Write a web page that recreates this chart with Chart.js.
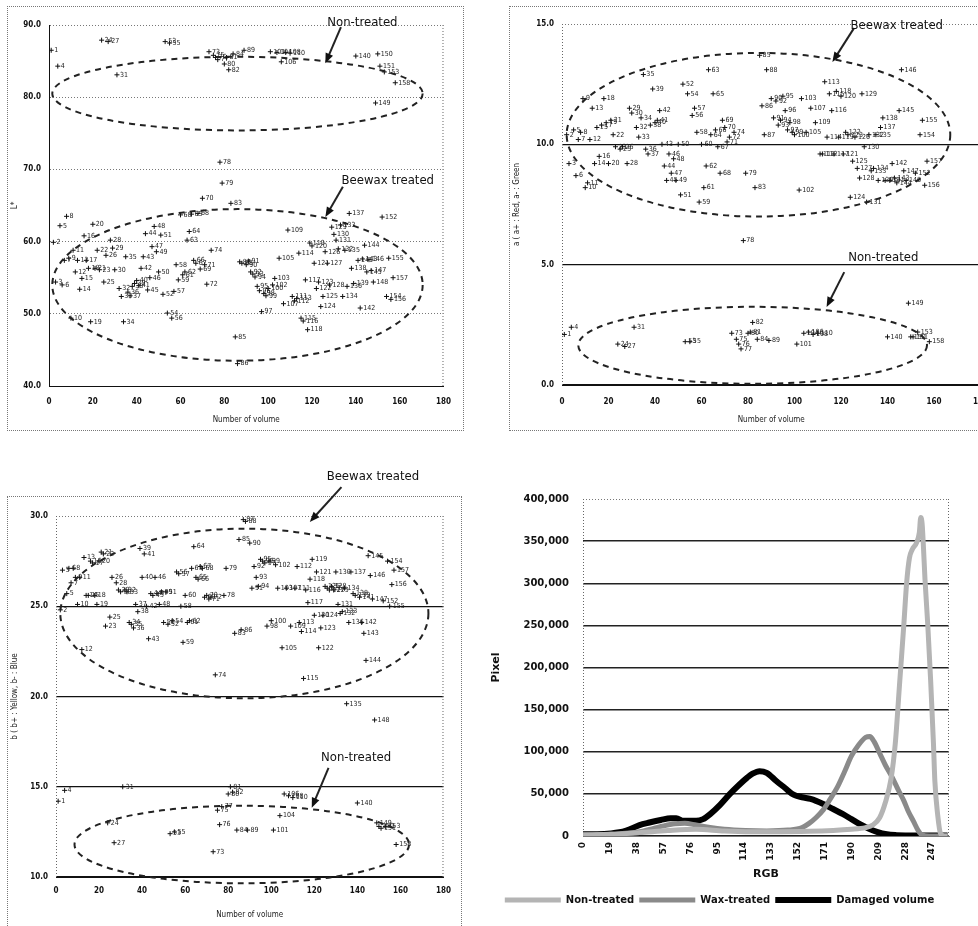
<!DOCTYPE html>
<html>
<head>
<meta charset="utf-8">
<script src="https://cdn.jsdelivr.net/npm/chart.js@4.4.0/dist/chart.umd.min.js"></script>
<style>
html, body { margin: 0; padding: 0; background: #fff; overflow: hidden; width: 978px; height: 926px; }
.frame { position: absolute; border: 1px dotted #777; box-sizing: border-box; }
canvas { position: absolute; }
</style>
</head>
<body>
<div class="frame" style="left:7px;top:6px;width:457px;height:425px"></div>
<div class="frame" style="left:509px;top:6px;width:520px;height:425px"></div>
<div class="frame" style="left:7px;top:496px;width:455px;height:432px"></div>
<canvas id="chartL" width="454" height="423" style="left:8px;top:7px"></canvas>
<canvas id="chartA" width="490" height="423" style="left:510px;top:7px"></canvas>
<canvas id="chartB" width="452" height="460" style="left:8px;top:465px"></canvas>
<canvas id="chartRgb" width="478" height="445" style="left:490px;top:470px"></canvas>
<script>
/* colour values per volume (index = volume number) */
let lValues = [86.5, 59.9, 54.4, 84.3, 62.2, 54.0, 57.4, 63.5, 57.7, 49.4,
  58.8, 55.8, 57.4, 53.4, 54.9, 60.8, 57.4, 56.3, 48.9, 62.4,
  56.3, 58.8, 56.1, 87.9, 54.4, 58.1, 87.7, 60.2, 59.1, 56.1,
  83.1, 53.5, 52.4, 48.9, 57.9, 53.0, 52.5, 53.8, 54.2, 54.6,
  53.9, 56.3, 57.9, 61.1, 53.3, 55.0, 59.3, 62.1, 58.6, 55.8,
  60.9, 52.7, 87.7, 50.1, 87.5, 49.4, 53.1, 56.8, 54.7, 63.7,
  55.4, 55.8, 60.2, 61.4, 63.8, 57.4, 57.0, 63.9, 56.2, 66.0,
  56.8, 54.1, 86.3, 58.8, 85.8, 85.5, 85.2, 71.0, 68.1, 84.6,
  85.5, 83.8, 65.3, 86.0, 46.8, 43.1, 57.2, 57.0, 86.5, 56.8,
  57.3, 55.8, 55.5, 55.1, 53.8, 53.2, 50.3, 52.8, 52.5, 53.5,
  86.3, 54.0, 54.9, 86.2, 57.7, 84.9, 51.4, 86.2, 61.6, 86.1,
  52.4, 51.8, 52.1, 58.4, 49.4, 49.0, 54.7, 47.8, 59.8, 59.4,
  57.0, 53.5, 54.4, 51.0, 52.4, 58.6, 57.0, 54.0, 62.0, 61.0,
  60.2, 59.0, 62.3, 52.4, 58.8, 53.8, 63.9, 56.3, 54.2, 85.7,
  57.4, 50.8, 57.6, 59.5, 55.8, 57.5, 56.0, 54.4, 79.2, 86.0,
  84.3, 63.4, 83.5, 52.4, 57.7, 52.0, 55.0, 82.0];

let aValues = [2.1, 10.4, 9.2, 2.4, 10.6, 8.7, 10.2, 10.5, 11.9, 8.2,
  8.4, 10.2, 11.5, 9.2, 10.7, 9.5, 10.8, 11.9, 10.9, 9.2,
  11.0, 10.4, 9.9, 1.7, 9.8, 9.9, 1.6, 9.2, 11.5, 11.3,
  2.4, 10.7, 10.3, 11.1, 12.9, 9.8, 9.6, 10.8, 12.3, 10.9,
  11.0, 11.4, 10.0, 9.1, 8.5, 9.6, 8.8, 9.4, 8.5, 10.0,
  7.9, 12.5, 1.8, 12.1, 1.8, 11.2, 11.5, 10.5, 7.6, 10.0,
  8.2, 9.1, 13.1, 10.4, 12.1, 10.6, 9.9, 8.8, 11.0, 10.7,
  10.1, 10.3, 2.15, 10.5, 1.9, 1.7, 1.5, 6.0, 8.8, 2.15,
  2.2, 2.6, 8.2, 1.9, 13.7, 11.6, 10.4, 13.1, 1.85, 11.9,
  11.1, 11.8, 10.8, 11.0, 12.0, 11.4, 10.6, 10.9, 10.5, 10.4,
  1.7, 8.1, 11.9, 2.15, 10.5, 2.2, 11.5, 2.1, 10.9, 2.15,
  9.6, 9.6, 12.6, 10.3, 12.1, 11.4, 9.6, 12.2, 10.3, 12.0,
  9.6, 10.5, 10.4, 7.8, 9.3, 10.3, 9.0, 8.6, 12.1, 9.9,
  7.6, 10.4, 8.9, 9.0, 10.4, 8.5, 10.7, 11.1, 8.5, 2.0,
  8.5, 9.2, 8.6, 8.4, 11.4, 13.1, 8.9, 8.5, 3.4, 2.0,
  2.0, 8.8, 2.2, 10.4, 11.0, 8.3, 9.3, 1.8];

let bValues = [14.2, 24.8, 27.0, 14.8, 25.7, 27.1, 26.3, 27.1, 26.6, 25.1,
  26.6, 22.6, 27.7, 25.6, 25.6, 27.5, 27.4, 25.6, 25.1, 27.5,
  28.0, 27.9, 23.9, 13.0, 24.4, 26.6, 11.9, 26.3, 25.9, 25.8,
  15.0, 25.9, 25.8, 24.1, 24.0, 23.8, 25.1, 24.7, 28.2, 26.6,
  27.9, 25.0, 23.2, 25.7, 25.6, 26.6, 25.7, 25.1, 25.8, 24.1,
  25.8, 24.0, 12.4, 24.2, 12.5, 26.9, 26.8, 25.0, 23.0, 25.6,
  24.1, 24.2, 27.1, 28.3, 26.6, 26.5, 27.2, 27.1, 25.5, 25.6,
  25.4, 25.5, 11.4, 21.2, 13.7, 12.9, 13.9, 25.6, 27.1, 14.6,
  15.0, 14.7, 23.5, 12.6, 28.7, 23.7, 29.8, 29.7, 12.6, 28.5,
  26.0, 27.2, 26.6, 26.1, 27.6, 27.5, 27.4, 23.9, 27.5, 24.2,
  12.6, 27.3, 26.0, 13.4, 22.7, 14.6, 26.0, 14.5, 23.9, 14.4,
  26.0, 27.2, 24.1, 23.6, 21.0, 25.9, 25.2, 26.5, 27.6, 24.5,
  26.9, 22.7, 23.8, 24.5, 26.1, 26.0, 25.9, 26.1, 25.9, 26.9,
  25.1, 24.6, 24.7, 26.0, 19.6, 24.1, 26.9, 25.7, 25.6, 14.1,
  25.5, 24.1, 23.5, 22.0, 27.8, 26.7, 25.4, 18.7, 13.0, 12.8,
  12.7, 25.3, 12.8, 27.5, 25.0, 26.2, 27.0, 11.8];

// volume numbers 1..158
let volumes = lValues.map(function (v, i) { return i + 1; });

/* RGB histogram (pixel counts) */
let nonTreatedRgb = [0, 20, 40, 60, 80, 100, 130, 160, 190, 200, 205, 210, 214, 218, 221, 224, 227, 229, 231, 233,
  236, 238, 239, 240, 241, 242, 244, 246, 248, 249, 251, 253, 256, 258];
let nonTreatedPixels = [1500, 2000, 4000, 6500, 8000, 6000, 5000, 5500, 8000, 10000, 13000, 22000, 40000, 68000, 110000, 180000, 250000, 300000, 330000, 340000,
  348000, 360000, 378000, 370000, 340000, 305000, 250000, 185000, 110000, 65000, 25000, 3000, 0, 0];
let waxTreatedRgb = [0, 20, 40, 50, 57, 65, 72, 80, 90, 100, 115, 130, 145, 155, 160, 165, 170, 175, 180, 185,
  190, 195, 200, 203, 206, 210, 214, 219, 223, 227, 230, 234, 237, 240, 245, 258];
let waxTreatedPixels = [1000, 2000, 5000, 9000, 12000, 14500, 15000, 13000, 10000, 8000, 6500, 6000, 7000, 10000, 15000, 22000, 31000, 44000, 58000, 76000,
  95000, 108000, 117000, 118000, 112000, 98000, 84000, 69000, 55000, 42000, 30000, 17000, 7000, 1000, 0, 0];
let damagedRgb = [0, 10, 20, 30, 40, 47, 55, 62, 66, 71, 80, 85, 90, 97, 104, 110, 116, 120, 125, 130,
  137, 143, 149, 155, 161, 170, 177, 184, 190, 196, 202, 208, 215, 222, 235, 258];
let damagedPixels = [2000, 2000, 3000, 6000, 13000, 16000, 19000, 21000, 21000, 18000, 18000, 20000, 26000, 37000, 50000, 60000, 69000, 74000, 77000, 75000,
  65000, 57000, 49000, 46000, 44000, 38000, 32000, 26000, 20000, 14000, 9000, 5000, 2000, 1000, 500, 500];
let rgbTicks = [0, 19, 38, 57, 76, 95, 114, 133, 152, 171, 190, 209, 228, 247];

let narrow = '"Liberation Sans Narrow", "DejaVu Sans Condensed", sans-serif';

function drawArrow(ctx, x1, y1, x2, y2) {
    let ang = Math.atan2(y2 - y1, x2 - x1);
    let c = Math.cos(ang), s = Math.sin(ang);
    ctx.beginPath();
    ctx.moveTo(x1, y1);
    ctx.lineTo(x2 - 7 * c, y2 - 7 * s);
    ctx.stroke();
    ctx.beginPath();
    ctx.moveTo(x2, y2);
    ctx.lineTo(x2 - 10 * c + 4 * s, y2 - 10 * s - 4 * c);
    ctx.lineTo(x2 - 10 * c - 4 * s, y2 - 10 * s + 4 * c);
    ctx.closePath();
    ctx.fill();
}

/* ellipses, arrows and notes, placed in data units */
function notesPlugin(notes) {
    return {
        id: 'notes',
        beforeDatasetsDraw: function (chart) {
            let a = chart.chartArea, ctx = chart.ctx;
            ctx.save();
            ctx.strokeStyle = '#666';
            ctx.lineWidth = 1;
            ctx.setLineDash([1, 2]);
            ctx.beginPath();
            ctx.moveTo(a.right - 0.5, a.top);
            ctx.lineTo(a.right - 0.5, a.bottom);
            if (notes.dottedLeft) {
                ctx.moveTo(a.left + 0.5, a.top);
                ctx.lineTo(a.left + 0.5, a.bottom);
            }
            ctx.stroke();
            ctx.restore();
        },
        afterDatasetsDraw: function (chart) {
            let xs = chart.scales.x, ys = chart.scales.y, ctx = chart.ctx;
            let meta = chart.getDatasetMeta(0);
            let pts = chart.data.datasets[0].data;
            ctx.save();
            // volume numbers next to the points
            ctx.font = '7px ' + narrow;
            ctx.fillStyle = '#222';
            ctx.textBaseline = 'middle';
            meta.data.forEach(function (el, i) {
                ctx.fillText(String(pts[i].x), el.x + 3, el.y);
            });
            // dashed ellipses
            ctx.strokeStyle = '#222';
            ctx.fillStyle = '#111';
            ctx.lineWidth = 2;
            ctx.setLineDash([6, 5]);
            notes.ellipses.forEach(function (e) {
                let cx = xs.getPixelForValue(e.cx), cy = ys.getPixelForValue(e.cy);
                let rx = Math.abs(xs.getPixelForValue(e.cx + e.rx) - cx);
                let ry = Math.abs(ys.getPixelForValue(e.cy + e.ry) - cy);
                ctx.beginPath();
                ctx.ellipse(cx, cy, rx, ry, 0, 0, 2 * Math.PI);
                ctx.stroke();
            });
            ctx.setLineDash([]);
            notes.arrows.forEach(function (r) {
                drawArrow(ctx, xs.getPixelForValue(r[0]), ys.getPixelForValue(r[1]),
                    xs.getPixelForValue(r[2]), ys.getPixelForValue(r[3]));
            });
            ctx.font = '13px ' + narrow;
            ctx.textAlign = 'center';
            notes.texts.forEach(function (t) {
                ctx.fillText(t.text, xs.getPixelForValue(t.x), ys.getPixelForValue(t.y));
            });
            ctx.restore();
        }
    };
}

function scatterChart(id, values, yRange, yTitle, pad, axisSize, solidGrid, notes) {
    let points = values.map(function (v, i) { return {x: volumes[i], y: v}; });
    let tickFont = {family: narrow, size: 8, weight: 'bold'};
    return new Chart(document.getElementById(id).getContext('2d'), {
        type: 'scatter',
        data: {
            datasets: [{
                data: points,
                pointStyle: 'cross',
                pointRadius: 2.5,
                borderWidth: 1,
                borderColor: '#111',
                backgroundColor: '#111'
            }]
        },
        options: {
            responsive: false,
            animation: false,
            layout: {padding: pad},
            plugins: {legend: {display: false}, tooltip: {enabled: false}},
            scales: {
                x: {
                    min: 0, max: 180,
                    afterFit: function (s) { s.height = axisSize.x; },
                    ticks: {stepSize: 20, font: tickFont, color: '#111', padding: axisSize.xPad, maxRotation: 0},
                    grid: {display: false, drawTicks: false},
                    border: {display: true, color: '#111', width: 1},
                    title: {display: true, text: 'Number of volume', font: {family: narrow, size: 8}, color: '#222', padding: {top: 0, bottom: 5}}
                },
                y: {
                    min: yRange[0], max: yRange[1],
                    afterFit: function (s) { s.width = axisSize.y; },
                    ticks: {stepSize: yRange[2], font: tickFont, color: '#111', padding: 8,
                        callback: function (v) { return v.toFixed(1); }},
                    grid: {
                        drawTicks: false,
                        color: function (c) { return (solidGrid && c.tick && c.tick.value !== yRange[1]) ? '#111' : '#777'; },
                        lineWidth: function (c) { return (solidGrid && c.tick && c.tick.value !== yRange[1]) ? 1.3 : 1; }
                    },
                    border: {
                        display: !notes.dottedLeft, color: '#111', width: 1,
                        dash: function (c) { return (solidGrid && c.tick && c.tick.value !== yRange[1]) ? [] : [1, 2]; }
                    },
                    title: {display: true, text: yTitle, font: {family: narrow, size: 8}, color: '#222', padding: {top: 2, bottom: 2}}
                }
            }
        },
        plugins: [notesPlugin(notes)]
    });
}

scatterChart('chartL', lValues, [40, 90, 10], 'L*', {top: 18, right: 9, left: 0, bottom: 0},
    {x: 44, xPad: 11, y: 41}, false, {
        ellipses: [{cx: 86, cy: 80.5, rx: 84.5, ry: 5.1}, {cx: 86, cy: 54, rx: 84.5, ry: 10.5}],
        arrows: [[133.2, 89.7, 126.1, 84.7], [134.1, 67.6, 126.1, 63.4]],
        texts: [{text: 'Non-treated', x: 143, y: 90.3}, {text: 'Beewax treated', x: 154.6, y: 68.4}]
    });

scatterChart('chartA', aValues, [0, 15, 5], 'a ( a+ : Red, a- : Green', {top: 17, right: 11, left: 0, bottom: 0},
    {x: 45, xPad: 12, y: 52}, true, {
        dottedLeft: true,
        ellipses: [{cx: 84.5, cy: 10.4, rx: 82.5, ry: 3.4}, {cx: 82, cy: 1.65, rx: 75, ry: 1.6}],
        arrows: [[125.6, 14.83, 116.3, 13.42], [121.4, 4.69, 113.8, 3.24]],
        texts: [{text: 'Beewax treated', x: 144, y: 14.95}, {text: 'Non-treated', x: 138.2, y: 5.3}]
    });

scatterChart('chartB', bValues, [10, 30, 5], 'b ( b+ : Yellow, b- : Blue', {top: 51, right: 12, left: 0, bottom: 0},
    {x: 48, xPad: 9, y: 48}, true, {
        dottedLeft: true,
        ellipses: [{cx: 87.5, cy: 24.6, rx: 85.5, ry: 4.7}, {cx: 86.3, cy: 11.8, rx: 77.7, ry: 2.15}],
        arrows: [[132.6, 31.6, 117.9, 29.67], [126.6, 16.05, 118.8, 13.83]],
        texts: [{text: 'Beewax treated', x: 147.2, y: 32.2}, {text: 'Non-treated', x: 139.4, y: 16.6}]
    });

/* RGB histogram */
function pairs(xs, ys) {
    return xs.map(function (x, i) { return {x: x, y: ys[i]}; });
}

let boldFont = {family: '"DejaVu Sans", sans-serif', weight: 'bold'};

let rgbChart = new Chart(document.getElementById('chartRgb').getContext('2d'), {
    type: 'line',
    data: {
        datasets: [
            {label: 'Non-treated', data: pairs(nonTreatedRgb, nonTreatedPixels), borderColor: '#b4b4b4', backgroundColor: '#b4b4b4', borderWidth: 5},
            {label: 'Wax-treated', data: pairs(waxTreatedRgb, waxTreatedPixels), borderColor: '#8a8a8a', backgroundColor: '#8a8a8a', borderWidth: 5},
            {label: 'Damaged volume', data: pairs(damagedRgb, damagedPixels), borderColor: '#000', backgroundColor: '#000', borderWidth: 6}
        ]
    },
    options: {
        responsive: false,
        animation: false,
        locale: 'en-US',
        layout: {padding: {top: 29, right: 19, left: 0, bottom: 0}},
        elements: {point: {radius: 0}, line: {cubicInterpolationMode: 'monotone'}},
        plugins: {
            tooltip: {enabled: false},
            legend: {
                position: 'bottom',
                labels: {
                    usePointStyle: true, pointStyle: 'line', pointStyleWidth: 56,
                    font: {family: '"DejaVu Sans", sans-serif', size: 10, weight: 'bold'},
                    color: '#111', padding: 5, boxHeight: 10
                }
            }
        },
        scales: {
            x: {
                type: 'linear', min: 0, max: 259,
                afterFit: function (s) { s.height = 54; },
                afterBuildTicks: function (s) {
                    s.ticks = rgbTicks.map(function (v) { return {value: v}; });
                },
                ticks: {autoSkip: false, minRotation: 90, maxRotation: 90, padding: 6,
                    font: Object.assign({size: 9}, boldFont), color: '#111'},
                grid: {display: false, drawTicks: false},
                border: {color: '#777', width: 1},
                title: {display: true, text: 'RGB', font: Object.assign({size: 11}, boldFont), color: '#111', padding: {top: 2, bottom: 9}}
            },
            y: {
                min: 0, max: 400000,
                afterFit: function (s) { s.width = 93; },
                ticks: {stepSize: 50000, padding: 14, font: Object.assign({size: 10}, boldFont), color: '#111'},
                grid: {
                    drawTicks: false,
                    color: function (c) { return c.tick && c.tick.value === 400000 ? '#777' : '#222'; },
                    lineWidth: function (c) { return c.tick && c.tick.value === 400000 ? 1 : 1.4; }
                },
                border: {display: false, dash: function (c) { return c.tick && c.tick.value === 400000 ? [1, 2] : []; }},
                title: {display: true, text: 'Pixel', font: Object.assign({size: 11}, boldFont), color: '#111', padding: {top: 0, bottom: 0}}
            }
        }
    },
    plugins: [{
        id: 'dottedBox',
        beforeDatasetsDraw: function (chart) {
            let a = chart.chartArea, ctx = chart.ctx;
            ctx.save();
            ctx.strokeStyle = '#666';
            ctx.setLineDash([1, 2]);
            ctx.lineWidth = 1;
            ctx.beginPath();
            ctx.moveTo(a.left + 0.5, a.top);
            ctx.lineTo(a.left + 0.5, a.bottom);
            ctx.moveTo(a.right - 0.5, a.top);
            ctx.lineTo(a.right - 0.5, a.bottom);
            ctx.stroke();
            ctx.restore();
        }
    }]
});
</script>
</body>
</html>
